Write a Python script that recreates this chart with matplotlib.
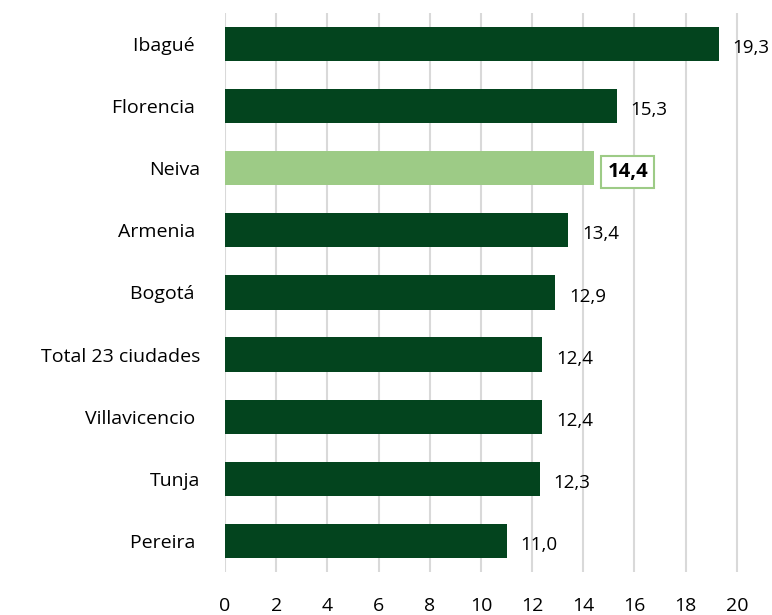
import matplotlib

matplotlib.use("Agg")
import matplotlib.pyplot as plt

plt.rcParams["font.family"] = ["Open Sans", "DejaVu Sans"]

# some source labels carry a trailing space, as in the original chart
cities = ["Ibagué ", "Florencia ", "Neiva", "Armenia ", "Bogotá ",
          "Total 23 ciudades", "Villavicencio ", "Tunja", "Pereira "]
values = [19.3, 15.3, 14.4, 13.4, 12.9, 12.4, 12.4, 12.3, 11.0]
highlight = "Neiva"
x_ticks = [0, 2, 4, 6, 8, 10, 12, 14, 16, 18, 20]

DARK = "#03441e"
LIGHT = "#9dcb86"

fig = plt.figure(figsize=(7.72, 6.15), dpi=100)
ax = fig.add_axes([0.2915, 0.07, 0.706, 0.909])

y_pos = list(range(len(cities)))[::-1]
colors = [LIGHT if c.strip() == highlight else DARK for c in cities]
ax.barh(y_pos, values, height=0.55, color=colors, zorder=3)

for y, v, c in zip(y_pos, values, cities):
    label = f"{v:.1f}".replace(".", ",")
    if c.strip() == highlight:
        ax.annotate(label, (v, y), xytext=(10, -3), textcoords="offset points",
                    ha="left", va="center", fontsize=14.5, fontweight="bold",
                    bbox=dict(boxstyle="square,pad=0.3", fc="white", ec=LIGHT, lw=1.5))
    else:
        ax.annotate(label, (v, y), xytext=(10, -3), textcoords="offset points",
                    ha="left", va="center", fontsize=13.5)

ax.set_yticks(y_pos)
ax.set_yticklabels(cities, fontsize=14)
ax.set_xticks(x_ticks)
ax.set_xticklabels([str(t) for t in x_ticks], fontsize=14)
ax.set_xlim(0, 21.3)
ax.set_ylim(-0.5, len(cities) - 0.5)

ax.grid(axis="x", color="#d9d9d9", lw=1.5, zorder=0)
ax.tick_params(axis="y", length=0, pad=18)
ax.tick_params(axis="x", length=0, pad=18)
for s in ax.spines.values():
    s.set_visible(False)

fig.savefig("out.png", dpi=100)
